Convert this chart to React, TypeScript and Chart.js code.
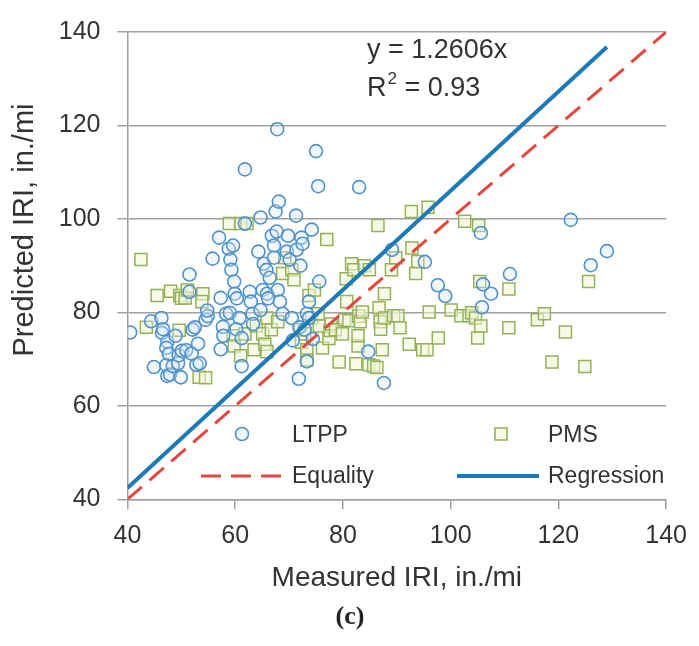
import { useEffect, useRef } from "react";
import { Chart, registerables } from "chart.js";

Chart.register(...registerables);

// ---- Data ----
const ltppX = [
  40.5, 44.4, 44.9, 46.3, 46.4, 46.6, 47.4, 47.2, 47.7, 47.2, 47.4, 47.9, 48.4, 48.9, 49.4, 49.5, 49.9, 50.1,
  50.9, 51.5, 51.5, 51.9, 52.1, 52.5, 53.1, 52.8, 53.4, 54.5, 54.9, 54.8, 55.8, 57.0, 57.3, 57.7, 57.8, 57.3,
  58.3, 58.8, 59.0, 59.1, 59.3, 59.6, 59.8, 59.9, 60.3, 60.8, 60.2, 61.2, 61.2, 61.8, 61.8, 62.7, 62.9, 63.2,
  63.3, 64.3, 64.7, 64.7, 65.1, 65.3, 65.8, 65.9, 66.1, 66.4, 66.8, 67.2, 67.2, 67.5, 67.8, 68.1, 67.7, 67.9,
  68.3, 68.8, 69.6, 69.8, 70.1, 70.5, 70.7, 71.3, 71.4, 71.8, 71.9, 72.1, 72.3, 72.5, 72.9, 73.3, 73.3, 73.7,
  73.7, 74.2, 74.4, 75.0, 75.4, 75.6, 83.0, 84.7, 87.6, 89.1, 95.2, 97.6, 99.0, 105.6, 105.8, 106.0, 107.5,
  111.0, 122.3, 126.0, 129.0,
];
const ltppY = [
  75.7, 78.1, 68.3, 78.8, 75.6, 76.4, 73.7, 72.4, 71.1, 68.7, 66.4, 66.7, 68.5, 75.0, 69.1, 70.8, 66.1, 71.8,
  71.9, 88.1, 84.4, 71.2, 76.3, 76.8, 73.3, 68.8, 69.1, 78.4, 79.2, 80.4, 91.5, 96.0, 83.1, 76.9, 75.0, 72.1,
  79.7, 93.6, 79.9, 91.3, 89.1, 94.3, 86.6, 84.0, 83.0, 78.8, 76.4, 68.5, 74.5, 110.6, 99.0, 84.4, 82.3, 79.7,
  77.5, 93.0, 100.3, 80.5, 84.8, 90.4, 89.1, 84.0, 83.0, 87.4, 96.4, 94.3, 91.7, 101.6, 119.2, 103.7, 97.3, 84.8,
  82.3, 79.7, 93.0, 96.4, 91.3, 78.8, 74.0, 100.7, 93.4, 65.8, 76.8, 90.0, 96.0, 94.7, 76.3, 79.7, 69.5, 82.3,
  78.8, 97.7, 74.3, 114.5, 107.0, 86.6, 106.8, 71.6, 64.9, 93.4, 90.8, 85.8, 83.5, 97.0, 81.1, 86.0, 84.0,
  88.2, 99.8, 90.1, 93.1,
];
const pmsX = [
  42.5, 43.5, 45.5, 48.0, 49.7, 50.0, 50.7, 51.1, 49.6, 54.0, 53.8, 53.3, 54.5, 58.9, 61.0, 62.2, 59.6, 59.8,
  61.0, 61.8, 63.5, 63.9, 65.1, 65.5, 65.9, 65.9, 66.7, 67.9, 68.8, 69.2, 70.5, 70.9, 72.1, 72.3, 72.9, 73.3,
  73.3, 73.7, 74.2, 74.7, 75.4, 75.6, 76.2, 77.0, 77.4, 77.6, 77.8, 78.6, 79.3, 79.9, 80.3, 80.7, 80.6, 81.1,
  81.6, 82.0, 82.4, 82.8, 82.9, 82.8, 83.2, 83.6, 84.0, 84.9, 84.8, 85.7, 86.3, 86.5, 86.7, 86.9, 87.0, 87.3,
  87.7, 87.7, 89.0, 89.4, 89.8, 90.2, 90.6, 92.3, 92.7, 92.8, 93.5, 93.9, 94.8, 95.6, 95.8, 96.0, 97.7, 100.1,
  101.9, 102.6, 103.4, 103.9, 104.6, 105.0, 105.2, 105.4, 105.6, 110.8, 110.8, 116.1, 117.4, 118.8, 121.3,
  124.9, 125.6,
];
const pmsY = [
  91.3, 76.8, 83.6, 84.5, 83.6, 83.0, 83.1, 84.8, 76.2, 84.0, 82.3, 66.1, 66.0, 99.0, 99.0, 99.0, 75.0, 72.8,
  70.7, 75.4, 72.0, 77.1, 75.4, 73.2, 71.6, 78.8, 76.3, 78.0, 88.3, 91.7, 89.1, 87.0, 76.3, 73.6, 75.4, 72.0,
  69.8, 83.6, 78.8, 84.8, 79.7, 77.1, 72.4, 95.6, 74.4, 76.1, 77.5, 76.3, 69.4, 75.4, 78.4, 82.3, 87.2, 78.2,
  90.4, 89.1, 69.0, 72.8, 79.2, 75.0, 78.0, 80.1, 90.0, 89.1, 68.8, 68.5, 68.2, 98.6, 81.0, 78.0, 76.4, 72.0,
  84.0, 78.8, 89.1, 79.3, 91.7, 79.3, 76.7, 73.2, 101.6, 93.8, 88.3, 90.9, 72.0, 72.0, 102.5, 80.1, 74.5, 80.5,
  79.3, 99.5, 79.3, 79.9, 78.8, 74.5, 98.6, 86.6, 77.1, 85.0, 76.7, 78.4, 79.7, 69.4, 75.8,
  68.4, 86.6,
];
const equalityX = [40, 140];
const equalityY = [40, 140];
const regressionX = [40, 129];
const regressionY = [42.4, 136.8];

const axisMin = 40;
const axisMax = 140;
const tickStep = 20;

const seriesLabels = ["LTPP", "PMS", "Equality", "Regression"];
const xTitle = "Measured IRI, in./mi";
const yTitle = "Predicted IRI, in./mi";
const equationText = "y = 1.2606x";
const r2Parts = ["R", "2", " = 0.93"];
const panelLabel = "(c)";

// ---- Styles ----
const SANS = '"Liberation Sans", Arial, Helvetica, sans-serif';
const SERIF = '"Liberation Serif", "Times New Roman", serif';
const TEXT = "#333333";
const GRID = "#a0a0a0";
const LTPP_BORDER = "#4f92ca";
const LTPP_FILL = "rgba(215,232,248,0.35)";
const PMS_BORDER = "#95b158";
const PMS_FILL = "rgba(243,246,214,0.55)";
const EQ_COLOR = "#e4473e";
const REG_COLOR = "#1d7ab6";

const zip = (xs: number[], ys: number[]) => xs.map((x, i) => ({ x, y: ys[i] }));

const overlayPlugin = {
  id: "overlay",
  afterDraw(chart: any) {
    const ctx: CanvasRenderingContext2D = chart.ctx;
    ctx.save();
    ctx.fillStyle = TEXT;

    // y-axis title
    ctx.save();
    ctx.font = `29px ${SANS}`;
    ctx.textAlign = "center";
    ctx.textBaseline = "middle";
    ctx.translate(25, 230);
    ctx.rotate(-Math.PI / 2);
    ctx.fillText(yTitle, 0, 0);
    ctx.restore();

    // equation annotation
    ctx.font = `27px ${SANS}`;
    ctx.textAlign = "left";
    ctx.textBaseline = "middle";
    ctx.fillText(equationText, 367, 51);
    let x = 367;
    ctx.fillText(r2Parts[0], x, 89);
    x += ctx.measureText(r2Parts[0]).width + 1;
    ctx.font = `17px ${SANS}`;
    ctx.fillText(r2Parts[1], x, 79);
    x += ctx.measureText(r2Parts[1]).width;
    ctx.font = `27px ${SANS}`;
    ctx.fillText(r2Parts[2], x, 89);

    // legend
    ctx.font = `23px ${SANS}`;
    ctx.textBaseline = "middle";
    ctx.lineWidth = 1.6;
    ctx.strokeStyle = LTPP_BORDER;
    ctx.fillStyle = LTPP_FILL;
    ctx.beginPath();
    ctx.arc(242, 434, 6.5, 0, Math.PI * 2);
    ctx.fill();
    ctx.stroke();
    ctx.strokeStyle = PMS_BORDER;
    ctx.fillStyle = PMS_FILL;
    ctx.beginPath();
    ctx.rect(495, 428, 12, 12);
    ctx.fill();
    ctx.stroke();

    ctx.setLineDash([20, 10]);
    ctx.lineWidth = 3;
    ctx.strokeStyle = EQ_COLOR;
    ctx.beginPath();
    ctx.moveTo(201, 476);
    ctx.lineTo(283, 476);
    ctx.stroke();
    ctx.setLineDash([]);
    ctx.lineWidth = 4;
    ctx.strokeStyle = REG_COLOR;
    ctx.beginPath();
    ctx.moveTo(457, 476);
    ctx.lineTo(539, 476);
    ctx.stroke();

    ctx.fillStyle = TEXT;
    ctx.fillText(seriesLabels[0], 292, 436);
    ctx.fillText(seriesLabels[1], 548, 436);
    ctx.fillText(seriesLabels[2], 292, 477);
    ctx.fillText(seriesLabels[3], 548, 477);

    // panel label
    ctx.font = `bold 26px ${SERIF}`;
    ctx.textAlign = "center";
    ctx.fillStyle = "#222222";
    ctx.fillText(panelLabel, 350, 617);

    ctx.restore();
  },
};

export default function App() {
  const canvasRef = useRef<HTMLCanvasElement | null>(null);

  useEffect(() => {
    const canvas = canvasRef.current;
    if (!canvas) return;
    const chart = new Chart(canvas, {
      type: "scatter",
      data: {
        datasets: [
          {
            type: "line",
            label: seriesLabels[3],
            data: zip(regressionX, regressionY),
            borderColor: REG_COLOR,
            borderWidth: 4,
            pointRadius: 0,
            fill: false,
            showLine: true,
          } as any,
          {
            type: "line",
            label: seriesLabels[2],
            data: zip(equalityX, equalityY),
            borderColor: EQ_COLOR,
            borderWidth: 3,
            borderDash: [19, 10],
            pointRadius: 0,
            fill: false,
            showLine: true,
          } as any,
          {
            label: seriesLabels[0],
            data: zip(ltppX, ltppY),
            pointStyle: "circle",
            pointRadius: 6.5,
            borderWidth: 1.6,
            borderColor: LTPP_BORDER,
            backgroundColor: LTPP_FILL,
          },
          {
            label: seriesLabels[1],
            data: zip(pmsX, pmsY),
            pointStyle: "rect",
            pointRadius: 8.5,
            borderWidth: 1.5,
            borderColor: PMS_BORDER,
            backgroundColor: PMS_FILL,
          },
        ],
      },
      options: {
        responsive: false,
        animation: false,
        devicePixelRatio: 1,
        events: [],
        layout: { padding: { top: 21, right: 32, left: 0, bottom: 0 } },
        plugins: {
          legend: { display: false },
          tooltip: { enabled: false },
        },
        scales: {
          x: {
            type: "linear",
            min: axisMin,
            max: axisMax,
            afterFit: (scale: any) => {
              scale.height = 146.7;
            },
            ticks: {
              stepSize: tickStep,
              color: TEXT,
              font: { family: SANS, size: 25 },
              padding: 12,
            },
            grid: {
              drawOnChartArea: false,
              drawTicks: true,
              tickLength: 10,
              color: GRID,
              lineWidth: 1.5,
            },
            border: { display: true, color: GRID, width: 1.5 },
            title: {
              display: true,
              text: xTitle,
              color: TEXT,
              font: { family: SANS, size: 28 },
              padding: { top: 0, bottom: 51 },
            },
          },
          y: {
            type: "linear",
            min: axisMin,
            max: axisMax,
            afterFit: (scale: any) => {
              scale.width = 127.5;
            },
            ticks: {
              stepSize: tickStep,
              color: TEXT,
              font: { family: SANS, size: 25 },
              padding: 17,
            },
            grid: {
              drawOnChartArea: true,
              drawTicks: true,
              tickLength: 10,
              color: GRID,
              lineWidth: 1.5,
            },
            border: { display: true, color: GRID, width: 1.5 },
          },
        },
      },
      plugins: [overlayPlugin],
    });
    return () => chart.destroy();
  }, []);

  return (
    <div style={{ position: "absolute", left: 0, top: 0, width: 699, height: 646, background: "#ffffff" }}>
      <canvas ref={canvasRef} width={699} height={646} style={{ display: "block" }} />
    </div>
  );
}
